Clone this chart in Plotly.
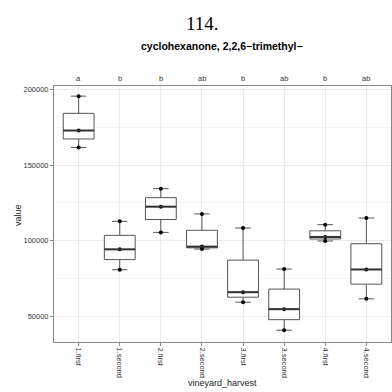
import numpy as np
import plotly.graph_objects as go

categories = ["1.first", "1.second", "2.first", "2.second", "3.first", "3.second", "4.first", "4.second"]
values = [
    [195500, 172800, 161600],
    [112800, 94300, 80800],
    [134400, 122500, 105500],
    [117700, 96100, 94500],
    [108400, 66000, 59400],
    [81300, 54800, 40900],
    [110600, 102500, 99800],
    [115000, 81000, 61600],
]
letters = ["a", "b", "b", "ab", "b", "ab", "b", "ab"]
y_ticks = [50000, 100000, 150000, 200000]

font_fam = "Liberation Sans, Arial, sans-serif"
W = H = 392
ML, MR, MT, MB = 54, 1, 86, 50
pw = W - ML - MR
ph = H - MT - MB


def px(xpix):
    return (xpix - ML) / pw


def py(ypix):
    return (H - MB - ypix) / ph


fig = go.Figure()
pos = list(range(len(categories)))
for i, (cat, vals) in enumerate(zip(categories, values)):
    fig.add_trace(go.Box(
        x=[pos[i]] * len(vals), y=vals, name=cat,
        boxpoints="all", jitter=0, pointpos=0,
        quartilemethod="inclusive",
        width=0.75, offsetgroup="g",
        fillcolor="white",
        line=dict(color="#555555", width=1),
        marker=dict(color="black", size=4),
        showlegend=False, hoverinfo="skip",
    ))
    med = float(np.median(vals))
    fig.add_shape(type="line", x0=pos[i] - 0.375, x1=pos[i] + 0.375, y0=med, y1=med,
                  line=dict(color="#333333", width=2), layer="above")

annots = []
for i, lt in enumerate(letters):
    annots.append(dict(x=pos[i], y=1.0, xref="x", yref="paper", text=lt, showarrow=False,
                       yanchor="bottom", yshift=1, font=dict(size=7.5, color="#333333", family=font_fam)))
annots.append(dict(x=px(202), y=py(23), xref="paper", yref="paper", text="114.", showarrow=False,
                   yanchor="middle", font=dict(size=19, color="black", family="Liberation Serif, DejaVu Serif, serif")))
annots.append(dict(x=px(222), y=py(46), xref="paper", yref="paper",
                   text="<b>cyclohexanone, 2,2,6\u2212trimethyl\u2212</b>",
                   showarrow=False, yanchor="middle", font=dict(size=10.5, color="black", family=font_fam)))
annots.append(dict(x=px(222), y=py(383), xref="paper", yref="paper", text="vineyard_harvest",
                   showarrow=False, yanchor="middle", font=dict(size=9, color="#222222", family=font_fam)))
annots.append(dict(x=px(18), y=py(215), xref="paper", yref="paper", text="value", textangle=-90,
                   showarrow=False, xanchor="center", yanchor="middle",
                   font=dict(size=9, color="#222222", family=font_fam)))

fig.update_layout(
    width=W, height=H,
    margin=dict(l=ML, r=MR, t=MT, b=MB, autoexpand=False),
    paper_bgcolor="white", plot_bgcolor="white",
    font=dict(family=font_fam, color="#333333"),
    boxmode="overlay",
    annotations=annots,
)

fig.update_xaxes(
    range=[-0.6, len(categories) - 0.4], automargin=False,
    tickmode="array", tickvals=pos, ticktext=categories, tickangle=90,
    tickfont=dict(size=7.5, color="#333333"),
    ticks="outside", ticklen=3, tickcolor="#888888",
    showgrid=True, gridcolor="#ebebeb", gridwidth=1,
    showline=True, linecolor="#888888", linewidth=1, mirror=True,
    zeroline=False,
)
fig.update_yaxes(
    range=[33100, 202200], automargin=False,
    tickmode="array", tickvals=y_ticks, ticktext=[str(v) for v in y_ticks],
    tickfont=dict(size=7.5, color="#333333"),
    ticks="outside", ticklen=3, tickcolor="#888888",
    showgrid=True, gridcolor="#ebebeb", gridwidth=1,
    minor=dict(tickmode="array", tickvals=[25000, 75000, 125000, 175000], showgrid=True,
               gridcolor="#f5f5f5", ticks=""),
    showline=True, linecolor="#888888", linewidth=1, mirror=True,
    zeroline=False,
)
fig.write_html("out.html", config={"displayModeBar": False},
               post_script="document.body.style.margin='0';document.body.style.padding='0';")
